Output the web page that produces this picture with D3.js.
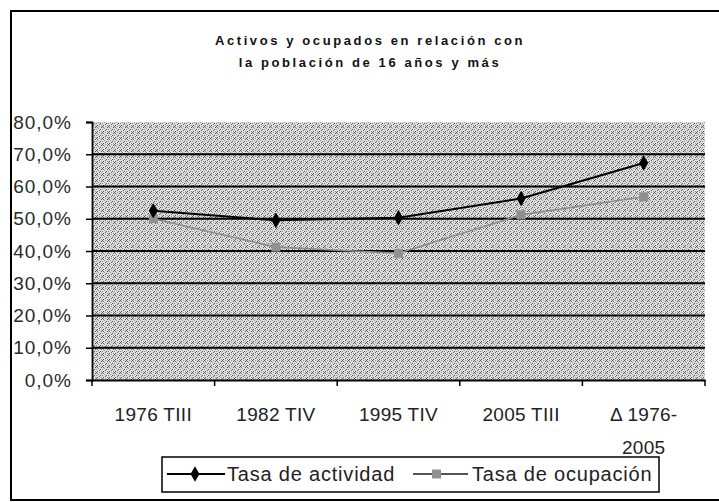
<!DOCTYPE html>
<html lang="es">
  <head>
    <meta charset="utf-8" />
    <title>Activos y ocupados</title>
    <script src="https://d3js.org/d3.v7.min.js"></script>
    <style type="text/css">
      body { margin: 0; background: #fff; }
      text { font-family: 'Liberation Sans', Arial, sans-serif; }
    </style>
  </head>
  <body>
    <script type="text/javascript">
      const w = 719;
      const h = 502;

      // data
      const categories = ['1976 TIII', '1982 TIV', '1995 TIV', '2005 TIII', '\u0394 1976-2005'];
      const categoryLines = [['1976 TIII'], ['1982 TIV'], ['1995 TIV'], ['2005 TIII'], ['\u0394 1976-', '2005']];
      const actividad = [0.525, 0.495, 0.503, 0.563, 0.673];
      const ocupacion = [0.500, 0.412, 0.393, 0.512, 0.568];
      const yTicks = [0, 0.1, 0.2, 0.3, 0.4, 0.5, 0.6, 0.7, 0.8];
      const titleLines = ['Activos y ocupados en relación con', 'la población de 16 años y más'];
      const seriesNames = ['Tasa de actividad', 'Tasa de ocupación'];

      const plotLeft = 92;
      const plotRight = 705;

      const xScale = d3.scaleBand()
        .domain(categories)
        .range([plotLeft, plotRight]);

      const yScale = d3.scaleLinear()
        .domain([0, 0.8])
        .range([380, 122]);

      const fmt = d3.formatLocale({ decimal: ',', thousands: '.', grouping: [3], currency: ['', '€'] }).format('.1%');

      const svg = d3.select('body').append('svg').attr('width', w).attr('height', h);

      // grey scan-like texture for the plot area (fixed dot layout)
      const dots = [[0, 0, '#555'], [3, 0, '#999'], [1, 1, '#777'], [5, 1, '#555'], [2, 2, '#999'], [4, 3, '#555'],
        [0, 3, '#888'], [3, 4, '#666'], [1, 5, '#555'], [5, 5, '#999']];
      const defs = svg.append('defs');
      const pat = defs.append('pattern')
        .attr('id', 'dither')
        .attr('width', 6).attr('height', 6)
        .attr('patternUnits', 'userSpaceOnUse');
      pat.append('rect').attr('width', 6).attr('height', 6).attr('fill', '#dedede');
      pat.selectAll('rect.dot')
        .data(dots)
        .enter()
        .append('rect')
        .attr('class', 'dot')
        .attr('x', (d) => d[0]).attr('y', (d) => d[1])
        .attr('width', 1).attr('height', 1)
        .attr('fill', (d) => d[2]);

      // outer frame
      svg.append('rect')
        .attr('x', 11).attr('y', 11)
        .attr('width', 716).attr('height', 489)
        .attr('fill', 'none')
        .attr('stroke', '#000')
        .attr('stroke-width', 2);

      // title
      svg.append('g')
        .selectAll('text')
        .data(titleLines)
        .enter()
        .append('text')
        .text((d) => d)
        .attr('x', 370)
        .attr('y', (d, i) => 45 + i * 22)
        .attr('text-anchor', 'middle')
        .attr('font-family', "'Liberation Serif', 'DejaVu Serif', serif")
        .attr('font-weight', 'bold')
        .attr('font-size', '13px')
        .attr('letter-spacing', '2.6px')
        .attr('fill', '#111');

      // plot area
      svg.append('rect')
        .attr('x', plotLeft)
        .attr('y', yScale(0.8))
        .attr('width', plotRight - plotLeft)
        .attr('height', yScale(0) - yScale(0.8))
        .attr('fill', 'url(#dither)');

      // gridlines
      svg.append('g')
        .selectAll('line')
        .data(yTicks.filter((d) => d > 0 && d < 0.8))
        .enter()
        .append('line')
        .attr('x1', plotLeft)
        .attr('x2', plotRight)
        .attr('y1', (d) => yScale(d))
        .attr('y2', (d) => yScale(d))
        .attr('stroke', '#000')
        .attr('stroke-width', 1.8);

      // y axis
      const yAxis = svg.append('g')
        .attr('transform', `translate(${plotLeft},0)`)
        .call(d3.axisLeft(yScale).tickValues(yTicks).tickFormat(fmt).tickSize(6).tickPadding(14));
      yAxis.select('.domain').attr('stroke', '#000').attr('stroke-width', 1.8);
      yAxis.selectAll('.tick line').attr('stroke', '#000').attr('stroke-width', 1.5);
      yAxis.selectAll('.tick text')
        .attr('font-size', '19px')
        .attr('letter-spacing', '1px')
        .attr('fill', '#2a2a2a');

      // x axis
      const xAxis = svg.append('g')
        .attr('transform', `translate(0,${yScale(0)})`)
        .call(d3.axisBottom(xScale).tickSize(0).tickFormat(''));
      xAxis.select('.domain').attr('stroke', '#000').attr('stroke-width', 1.8);
      svg.append('g')
        .selectAll('line')
        .data(categories.map((c) => xScale(c)).concat([plotRight]))
        .enter()
        .append('line')
        .attr('x1', (d) => d)
        .attr('x2', (d) => d)
        .attr('y1', yScale(0))
        .attr('y2', yScale(0) + 6)
        .attr('stroke', '#000')
        .attr('stroke-width', 1.5);

      // category labels
      const catG = svg.append('g')
        .selectAll('text')
        .data(categories)
        .enter()
        .append('text')
        .attr('x', (d) => xScale(d) + xScale.bandwidth() / 2)
        .attr('y', 421)
        .attr('text-anchor', 'middle')
        .attr('font-size', '19px')
        .attr('letter-spacing', '0.3px')
        .attr('fill', '#222');
      catG.selectAll('tspan')
        .data((d, i) => categoryLines[i])
        .enter()
        .append('tspan')
        .attr('x', function () { return d3.select(this.parentNode).attr('x'); })
        .attr('dy', (d, i) => (i === 0 ? 0 : 33))
        .text((d) => d);

      const line = d3.line()
        .x((d, i) => xScale(categories[i]) + xScale.bandwidth() / 2)
        .y((d) => yScale(d));

      // ocupacion series
      svg.append('path')
        .datum(ocupacion)
        .attr('d', line)
        .attr('fill', 'none')
        .attr('stroke', '#8c8c8c')
        .attr('stroke-width', 1.6);
      svg.append('g')
        .selectAll('rect')
        .data(ocupacion)
        .enter()
        .append('rect')
        .attr('x', (d, i) => xScale(categories[i]) + xScale.bandwidth() / 2 - 4.5)
        .attr('y', (d) => yScale(d) - 4.5)
        .attr('width', 9)
        .attr('height', 9)
        .attr('fill', '#909090');

      // actividad series
      svg.append('path')
        .datum(actividad)
        .attr('d', line)
        .attr('fill', 'none')
        .attr('stroke', '#000')
        .attr('stroke-width', 2);
      svg.append('g')
        .selectAll('path')
        .data(actividad)
        .enter()
        .append('path')
        .attr('d', d3.symbol().type(d3.symbolDiamond).size(70))
        .attr('transform', (d, i) => `translate(${xScale(categories[i]) + xScale.bandwidth() / 2},${yScale(d)})`)
        .attr('fill', '#000');

      // legend
      const lg = svg.append('g');
      lg.append('rect')
        .attr('x', 162).attr('y', 457)
        .attr('width', 497).attr('height', 35)
        .attr('fill', '#fff')
        .attr('stroke', '#000')
        .attr('stroke-width', 1.5);
      lg.append('line')
        .attr('x1', 167).attr('x2', 225).attr('y1', 474).attr('y2', 474)
        .attr('stroke', '#000').attr('stroke-width', 2);
      lg.append('path')
        .attr('d', d3.symbol().type(d3.symbolDiamond).size(70))
        .attr('transform', 'translate(195,474)')
        .attr('fill', '#000');
      lg.append('text')
        .text(seriesNames[0])
        .attr('x', 227).attr('y', 481)
        .attr('font-size', '20px')
        .attr('letter-spacing', '0.8px')
        .attr('fill', '#222');
      lg.append('line')
        .attr('x1', 413).attr('x2', 468).attr('y1', 474).attr('y2', 474)
        .attr('stroke', '#555').attr('stroke-width', 2);
      lg.append('rect')
        .attr('x', 432).attr('y', 469.5).attr('width', 9).attr('height', 9)
        .attr('fill', '#909090');
      lg.append('text')
        .text(seriesNames[1])
        .attr('x', 472).attr('y', 481)
        .attr('font-size', '20px')
        .attr('letter-spacing', '0.8px')
        .attr('fill', '#222');
    </script>
  </body>
</html>
